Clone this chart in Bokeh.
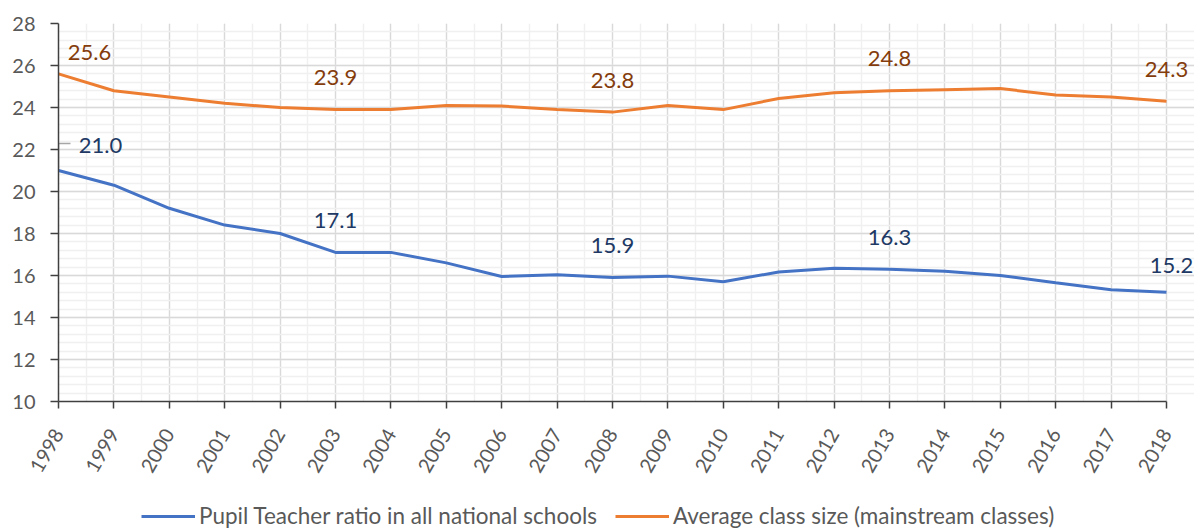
import math
from bokeh.plotting import figure
from bokeh.layouts import column
from bokeh.models import (ColumnDataSource, SingleIntervalTicker, Range1d, Legend, LegendItem, LabelSet)
from bokeh.core.properties import value
from bokeh.embed import file_html
from bokeh.resources import INLINE

years = list(range(1998, 2019))
pupil_teacher = [21.0, 20.3, 19.2, 18.4, 18.0, 17.1, 17.1, 16.6, 15.95, 16.03, 15.9,
                 15.97, 15.7, 16.17, 16.35, 16.3, 16.2, 16.0, 15.65, 15.32, 15.2]
class_size = [25.6, 24.8, 24.5, 24.2, 24.0, 23.9, 23.9, 24.1, 24.07, 23.9, 23.78,
              24.1, 23.9, 24.43, 24.7, 24.8, 24.85, 24.9, 24.6, 24.5, 24.3]
label_years = [1998, 2003, 2008, 2013, 2018]
series_names = ["Pupil Teacher ratio in all national schools",
                "Average class size (mainstream classes)"]

FONT = "Lato"
BLUE, ORANGE = "#4472C4", "#ED7D31"
BLUE_DARK, ORANGE_DARK = "#203864", "#843C0C"
TXT = "#595959"

W = 1194
H1, H2 = 490, 39
BL, BT, BB = 58, 23, 89
PX_PER_YEAR = 1108 / 20           # frame spacing between yearly ticks
EXTRA = (W - BL) / PX_PER_YEAR - 20   # room on the right for the last labels
FH = H1 - BT - BB

x0r, x1r = years[0], years[-1]
p = figure(width=W, height=H1, output_backend="svg", toolbar_location=None,
           x_range=Range1d(x0r, x1r + EXTRA), y_range=Range1d(10, 28),
           min_border_left=BL, min_border_top=BT, min_border_right=0, min_border_bottom=BB)
p.outline_line_color = None
p.background_fill_color = "white"

p.xaxis.ticker = SingleIntervalTicker(interval=1, num_minor_ticks=2)
p.yaxis.ticker = SingleIntervalTicker(interval=2, num_minor_ticks=5)
p.xaxis.bounds = (x0r, x1r)
p.xgrid.bounds = (x0r, x1r)
p.ygrid.bounds = (10, 28)
p.xgrid.grid_line_color = "#D9D9D9"
p.ygrid.grid_line_color = "#D9D9D9"
p.xgrid.grid_line_width = 1.3
p.ygrid.grid_line_width = 1.3
p.xgrid.minor_grid_line_color = "#F0F0F0"
p.ygrid.minor_grid_line_color = "#F0F0F0"
p.xgrid.minor_grid_line_width = 1.5
p.ygrid.minor_grid_line_width = 1.5

for ax in (p.xaxis[0], p.yaxis[0]):
    ax.axis_line_color = "#404040"
    ax.axis_line_width = 1.5
    ax.major_tick_line_color = "#404040"
    ax.major_tick_line_width = 1.5
    ax.major_tick_in = 0
    ax.minor_tick_line_color = None
    ax.major_label_text_font = FONT
    ax.major_label_text_color = TXT
p.yaxis.major_tick_out = 8
p.xaxis.major_tick_out = 7
p.yaxis.major_label_text_font_size = "20px"
p.yaxis.major_label_standoff = 15
p.xaxis.major_label_text_font_size = "20px"
p.xaxis.major_label_orientation = math.pi / 3
p.xaxis.major_label_standoff = 22

src = ColumnDataSource(dict(x=years, pt=pupil_teacher, cs=class_size))
r1 = p.line("x", "pt", source=src, line_color=BLUE, line_width=3)
r2 = p.line("x", "cs", source=src, line_color=ORANGE, line_width=3)

# data labels
idx = [years.index(y) for y in label_years]
lab_cs = ColumnDataSource(dict(
    x=[years[i] for i in idx], y=[class_size[i] for i in idx],
    t=["%.1f" % class_size[i] for i in idx],
    dx=[31, 0, 0, 0, 0], dy=[21, 32, 32, 32, 32]))
lab_pt = ColumnDataSource(dict(
    x=[years[i] for i in idx], y=[pupil_teacher[i] for i in idx],
    t=["%.1f" % pupil_teacher[i] for i in idx],
    dx=[42, 0, 0, 0, 5], dy=[25, 32, 32, 32, 27]))
for s, c in ((lab_cs, ORANGE_DARK), (lab_pt, BLUE_DARK)):
    p.add_layout(LabelSet(x="x", y="y", text="t", source=s, x_offset="dx", y_offset="dy",
                          text_align="center", text_baseline="middle",
                          text_font=value(FONT), text_font_size=value("22px"),
                          text_color=value(c)))

# leader line for first blue label (pixel offsets converted to data units)
ux = 1 / PX_PER_YEAR
uy = (28 - 10) / FH
xa, ya = years[0], pupil_teacher[0]
p.line(x=[xa, xa, xa + 12 * ux], y=[ya + 2 * uy, ya + 27 * uy, ya + 27 * uy],
       line_color="#A6A6A6", line_width=1.5)

# legend strip (same series drawn out of view, only their legend entries show);
# its frame is aligned with the main frame by the column layout
p2 = figure(width=W, height=H2, output_backend="svg", toolbar_location=None,
            x_range=Range1d(0, 1), y_range=Range1d(0, 1), min_border=0,
            x_axis_location=None, y_axis_location=None)
p2.grid.visible = False
p2.outline_line_color = None
l1 = p2.line(x=years, y=pupil_teacher, line_color=BLUE, line_width=3)
l2 = p2.line(x=years, y=class_size, line_color=ORANGE, line_width=3)
legend = Legend(items=[LegendItem(label=series_names[0], renderers=[l1]),
                       LegendItem(label=series_names[1], renderers=[l2])],
                orientation="horizontal", location=(141 - BL, 0),
                label_text_font=FONT, label_text_font_size="22.5px", label_text_color=TXT,
                glyph_width=54, glyph_height=16, spacing=18, label_standoff=4,
                border_line_color=None, background_fill_alpha=0, margin=0, padding=0)
p2.add_layout(legend)

open("out.html", "w").write(file_html(column(p, p2, spacing=0), INLINE))
